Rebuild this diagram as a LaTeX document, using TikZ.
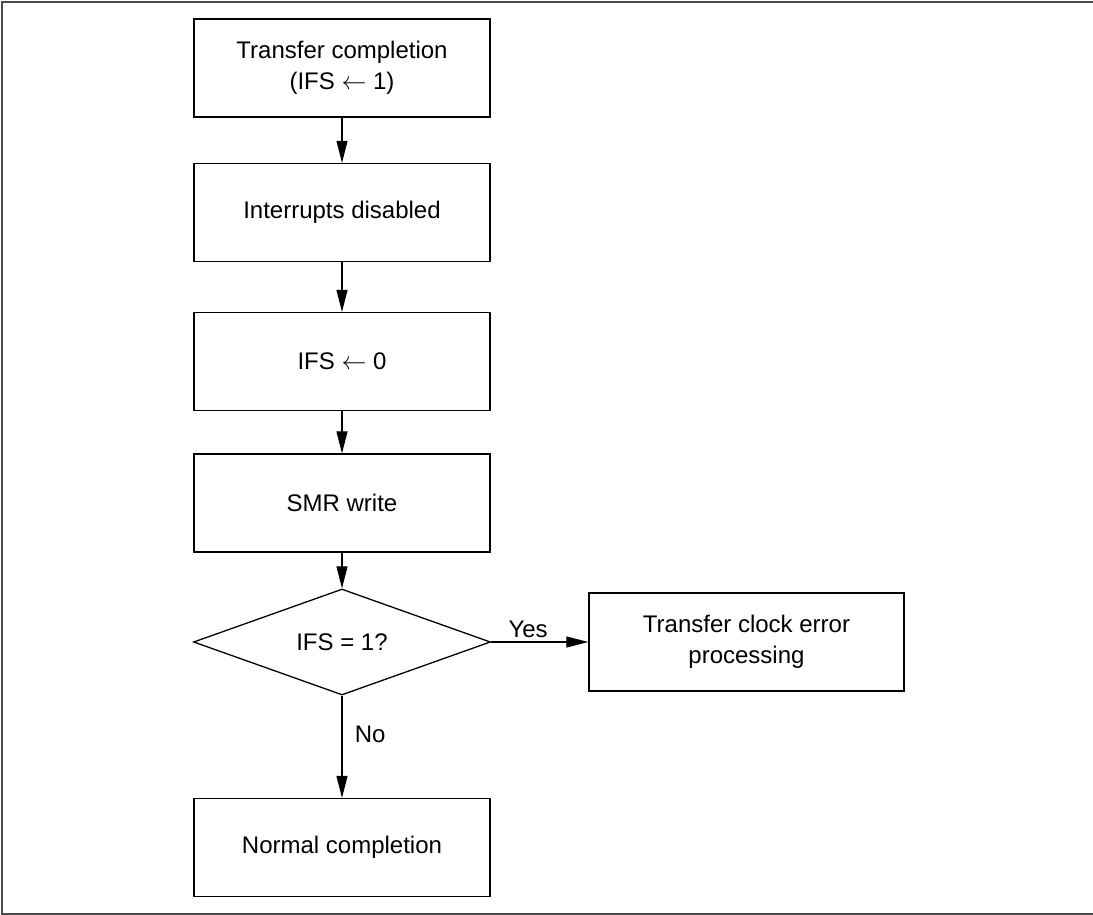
\documentclass[tikz,border=0pt]{standalone}
\usepackage{fontspec}
\setmainfont{Liberation Sans}
\usetikzlibrary{arrows.meta,shapes.geometric}
\tikzset{
 box/.style={draw,line width=1.3pt,minimum width=296pt,minimum height=98pt,align=center,inner sep=0pt},
 decision/.style={draw,diamond,line width=1.3pt,minimum width=297pt,minimum height=106pt,aspect=2.8,inner sep=0pt},
 flow/.style={line width=1.1pt,-{Triangle[length=22pt,width=11pt]}},
}

\begin{document}
\begin{tikzpicture}[x=1pt,y=-1pt,font=\fontsize{24}{31}\selectfont]
 \useasboundingbox (0,0) rectangle (1093,915);
 % outer frame (open on the right)
 \draw[black!70,line width=2pt] (1093,2)--(2,2)--(2,914)--(1093,914);
 \node[box] (start) at (342,68) {Transfer completion\\(IFS $\leftarrow$ 1)};
 \node[box] (noint) at (342,212.5) {Interrupts disabled};
 \node[box] (clear) at (342,361.5) {IFS $\leftarrow$ 0};
 \node[box] (smr) at (342,503) {SMR write};
 \node[decision] (test) at (342,642) {IFS = 1?};
 \node[box,minimum width=315pt] (err) at (746.5,642) {Transfer clock error\\processing};
 \node[box] (normal) at (342,847.5) {Normal completion};
 \foreach \a/\b in {start/noint,noint/clear,clear/smr,smr/test}
  \draw[flow] (\a)--(\b);
 \draw[flow] (test.east)--(err.west) node[pos=0.38,above] (yes) {Yes};
 \draw[flow] (test.south)--(normal.north) node[pos=0.38,right,xshift=9pt] (no) {No};
\end{tikzpicture}
\end{document}
